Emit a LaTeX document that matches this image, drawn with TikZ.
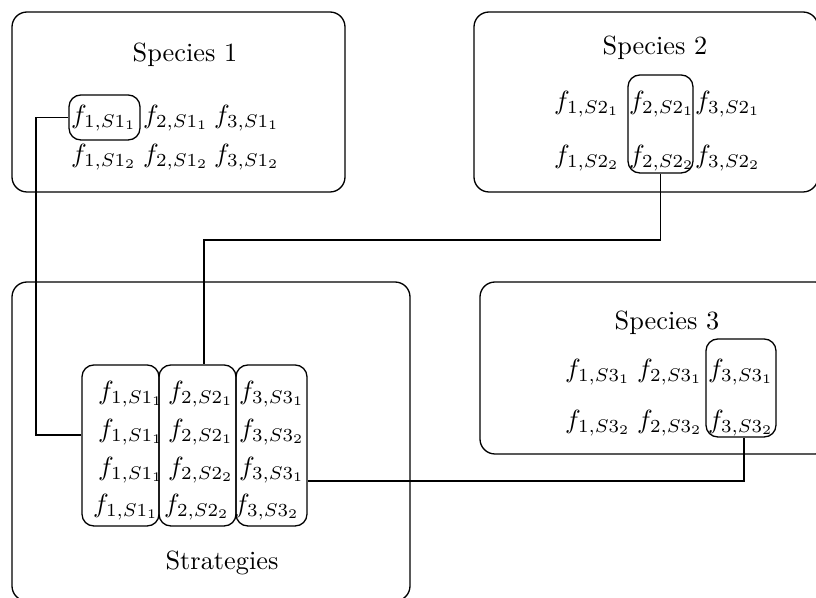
\documentclass[tikz,border=0pt]{standalone}
\usetikzlibrary{fit}
\begin{document}
\begin{tikzpicture}[x=0.38pt,y=-0.38pt,
  bigbox/.style={draw,rounded corners=5.7pt,inner sep=0pt,line width=0.5pt},
  hibox/.style={draw,rounded corners=4.5pt,inner sep=0pt,line width=0.5pt},
  lbl/.style={inner sep=0pt,font=\normalsize},
  ft/.style={inner sep=0pt},
  conn/.style={draw,line width=0.5pt}]
\useasboundingbox (0,0) rectangle (816,598);
\clip (0,0) rectangle (816,598);
% Species 1
\node[bigbox,fit={(12,12) (345,192)}] (sp1) {};
\node[lbl] (t1) at (185,55) {Species 1};
\node[ft] (a11) at (104,118) {$f_{1,S1_1}$};
\node[ft] (a21) at (176,118) {$f_{2,S1_1}$};
\node[ft] (a31) at (247,118) {$f_{3,S1_1}$};
\node[ft] (a12) at (104,157) {$f_{1,S1_2}$};
\node[ft] (a22) at (176,157) {$f_{2,S1_2}$};
\node[ft] (a32) at (247,157) {$f_{3,S1_2}$};
\node[hibox,fit={(69,95) (140,140)}] (h1) {};
% Species 2
\node[bigbox,fit={(474,12) (818,192)}] (sp2) {};
\node[lbl] (t2) at (655,48) {Species 2};
\node[ft] (b11) at (587,104) {$f_{1,S2_1}$};
\node[ft] (b21) at (662,104) {$f_{2,S2_1}$};
\node[ft] (b31) at (728,104) {$f_{3,S2_1}$};
\node[ft] (b12) at (587,158) {$f_{1,S2_2}$};
\node[ft] (b22) at (662,158) {$f_{2,S2_2}$};
\node[ft] (b32) at (728,158) {$f_{3,S2_2}$};
\node[hibox,fit={(628,75) (693,173)}] (h2) {};
% Species 3
\node[bigbox,fit={(480,282) (830,454)}] (sp3) {};
\node[lbl] (t3) at (667,323) {Species 3};
\node[ft] (c11) at (598,372) {$f_{1,S3_1}$};
\node[ft] (c21) at (670,372) {$f_{2,S3_1}$};
\node[ft] (c31) at (741,372) {$f_{3,S3_1}$};
\node[ft] (c12) at (598,423) {$f_{1,S3_2}$};
\node[ft] (c22) at (670,423) {$f_{2,S3_2}$};
\node[ft] (c32) at (741,423) {$f_{3,S3_2}$};
\node[hibox,fit={(706,339) (776,437)}] (h3) {};
% Strategies
\node[bigbox,fit={(12,282) (410,601)}] (st) {};
\node[lbl] (t4) at (222,563) {Strategies};
\node[hibox,fit={(82,365) (159,526)}] (col1) {};
\node[hibox,fit={(159,365) (236,526)}] (col2) {};
\node[hibox,fit={(236,365) (307,526)}] (col3) {};
\node[ft] (s11) at (131,394) {$f_{1,S1_1}$};
\node[ft] (s12) at (131,432) {$f_{1,S1_1}$};
\node[ft] (s13) at (131,470) {$f_{1,S1_1}$};
\node[ft] (s14) at (126,507) {$f_{1,S1_1}$};
\node[ft] (s21) at (201,394) {$f_{2,S2_1}$};
\node[ft] (s22) at (201,432) {$f_{2,S2_1}$};
\node[ft] (s23) at (201,470) {$f_{2,S2_2}$};
\node[ft] (s24) at (197,507) {$f_{2,S2_2}$};
\node[ft] (s31) at (272,394) {$f_{3,S3_1}$};
\node[ft] (s32) at (272,432) {$f_{3,S3_2}$};
\node[ft] (s33) at (272,470) {$f_{3,S3_1}$};
\node[ft] (s34) at (267,507) {$f_{3,S3_2}$};
% connectors
\coordinate (k1) at (36,435);
\coordinate (k2) at (204,240);
\coordinate (k3) at (744,481);
\draw[conn] (h1.west) -| (k1) -- (k1 -| col1.west);
\draw[conn] (h2.south) |- (k2) -- (k2 |- col2.north);
\draw[conn] (k3 -| col3.east) -- (k3) -- (k3 |- h3.south);
\end{tikzpicture}
\end{document}
